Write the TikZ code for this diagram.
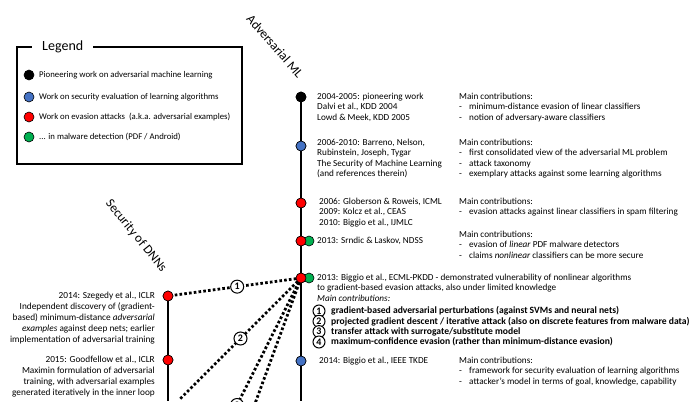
\documentclass[tikz,border=0pt]{standalone}
\usepackage{fontspec}
\setmainfont{Carlito}
\definecolor{myred}{RGB}{255,0,0}
\definecolor{myblue}{RGB}{68,114,196}
\definecolor{mygreen}{RGB}{0,176,80}
\begin{document}
\begin{tikzpicture}[x=1pt,y=-1pt,
  dot/.style={circle,draw=black,line width=0.6pt,minimum size=10pt,inner sep=0pt},
  txt/.style={font=\fontsize{9.2}{10.5}\selectfont,align=left,anchor=north west,inner sep=0pt},
  rtxt/.style={font=\fontsize{9.3}{10.9}\selectfont,align=right,anchor=north east,inner sep=0pt},
  legtxt/.style={font=\fontsize{8.75}{10}\selectfont,anchor=west,inner sep=0pt},
  title/.style={font=\fontsize{13}{15}\selectfont,inner sep=0pt},
  timeline/.style={line width=2.4pt},
  dotcon/.style={line width=2.8pt,dash pattern=on 2.6pt off 2.2pt},
  numc/.style={circle,solid,draw=black,fill=white,line width=1pt,minimum size=13pt,inner sep=0pt,font=\fontsize{10}{11}\selectfont\bfseries},
  numl/.style={circle,draw=black,fill=white,line width=1pt,minimum size=12pt,inner sep=0pt,font=\fontsize{10}{10}\selectfont\bfseries},
  btxt/.style={font=\fontsize{9.6}{11}\selectfont\bfseries,anchor=west,inner sep=0pt}
]
\useasboundingbox (0,0) rectangle (700,401);
\fill[white] (0,0) rectangle (700,401);

% legend
\draw[line width=1.1pt] (17,47) rectangle (242,164);
\node[fill=white,inner xsep=10pt,inner ysep=3pt,font=\fontsize{14}{16}\selectfont,anchor=west] (legtitle) at (32,47) {Legend};
\node[dot,fill=black] (lg1) at (29,75) {};
\node[dot,fill=myblue] (lg2) at (29,97) {};
\node[dot,fill=myred] (lg3) at (29,117) {};
\node[dot,fill=mygreen] (lg4) at (29,137) {};
\node[legtxt] (lt1) at (39,75) {Pioneering work on adversarial machine learning};
\node[legtxt] (lt2) at (39,97) {Work on security evaluation of learning algorithms};
\node[legtxt] (lt3) at (39,117) {Work on evasion attacks \ (a.k.a. adversarial examples)};
\node[legtxt] (lt4) at (39,137) {... in malware detection (PDF / Android)};

% titles
\node[title,rotate=-49] (advml) at (275,46) {Adversarial ML};
\node[title,rotate=-51] (secdnn) at (136,236) {Security of DNNs};

% timeline coordinates
\coordinate (mainend) at (301,401);
\coordinate (leftend) at (168,401);
\coordinate (c2end) at (180,399);
\coordinate (c3end) at (237,405);
\coordinate (c4end) at (249,420);

\node[dot,fill=black] (d1) at (301,97) {};
\node[dot,fill=myblue] (d2) at (301,146) {};
\node[dot,fill=myred] (d3) at (301,203) {};
\node[dot,fill=myred] (d4) at (301,241) {};
\node[dot,fill=myred] (d5) at (301,278) {};
\node[dot,fill=myblue] (d6) at (301,361) {};
\node[dot,fill=myred] (s1) at (168,296) {};
\node[dot,fill=myred] (s2) at (168,360) {};

% lines (drawn, then dots redrawn on top)
\draw[timeline] (d1.center) -- (mainend);
\draw[timeline] (s1.center) -- (leftend);
\draw[dotcon] (d5.center) -- (s1.center) node[numc,pos=0.48] (n1) {1};
\draw[dotcon] (d5.center) -- (c2end) node[numc,pos=0.5] (n2) {2};
\draw[dotcon] (d5.center) -- (c3end);
\draw[dotcon] (d5.center) -- (c4end);
\node[numc] (n3) at (c3end) {3};

% dots on top
\node[dot,fill=black] at (d1) {};
\node[dot,fill=myblue] at (d2) {};
\node[dot,fill=myred] at (d3) {};
\node[dot,fill=mygreen] (g4) at (309,241) {};
\node[dot,fill=myred] at (d4) {};
\node[dot,fill=mygreen] (g5) at (309,278) {};
\node[dot,fill=myred] at (d5) {};
\node[dot,fill=myblue] at (d6) {};
\node[dot,fill=myred] at (s1) {};
\node[dot,fill=myred] at (s2) {};

% right texts
\node[txt] (l1) at (317,91.7) {\strut 2004-2005: pioneering work\\Dalvi et al., KDD 2004\\Lowd \& Meek, KDD 2005};
\node[txt] (r1) at (459,91.7) {\strut Main contributions:\\\makebox[10pt][l]{-}minimum-distance evasion of linear classifiers\\\makebox[10pt][l]{-}notion of adversary-aware classifiers};
\node[txt] (l2) at (317,137.7) {\strut 2006-2010: Barreno, Nelson,\\Rubinstein, Joseph, Tygar\\The Security of Machine Learning\\(and references therein)};
\node[txt] (r2) at (459,137.7) {\strut Main contributions:\\\makebox[10pt][l]{-}first consolidated view of the adversarial ML problem\\\makebox[10pt][l]{-}attack taxonomy\\\makebox[10pt][l]{-}exemplary attacks against some learning algorithms};
\node[txt] (l3) at (319,196.7) {\strut 2006: Globerson \& Roweis, ICML\\2009: Kolcz et al., CEAS\\2010: Biggio et al., IJMLC};
\node[txt] (r3) at (459,196.7) {\strut Main contributions:\\\makebox[10pt][l]{-}evasion attacks against linear classifiers in spam filtering};
\node[txt] (l4) at (317,235.7) {\strut 2013: Srndic \& Laskov, NDSS};
\node[txt] (r4) at (459,229.7) {\strut Main contributions:\\\makebox[10pt][l]{-}evasion of \emph{linear} PDF malware detectors\\\makebox[10pt][l]{-}claims \emph{nonlinear} classifiers can be more secure};
\node[txt] (l5) at (317,272.7) {\strut 2013: Biggio et al., ECML-PKDD - demonstrated vulnerability of nonlinear algorithms\\to gradient-based evasion attacks, also under limited knowledge\\\emph{Main contributions:}};
\node[numl] (m1) at (319,311) {1};
\node[numl] (m2) at (319,321.3) {2};
\node[numl] (m3) at (319,331.6) {3};
\node[numl] (m4) at (319,342) {4};
\node[btxt] (mt1) at (331,311) {gradient-based adversarial perturbations (against SVMs and neural nets)};
\node[btxt] (mt2) at (331,321.3) {projected gradient descent / iterative attack (also on discrete features from malware data)};
\node[btxt] (mt3) at (331,331.6) {transfer attack with surrogate/substitute model};
\node[btxt] (mt4) at (331,342) {maximum-confidence evasion (rather than minimum-distance evasion)};
\node[txt] (l6) at (319,355.7) {\strut 2014: Biggio et al., IEEE TKDE};
\node[txt] (r6) at (459,355.7) {\strut Main contributions:\\\makebox[10pt][l]{-}framework for security evaluation of learning algorithms\\\makebox[10pt][l]{-}attacker's model in terms of goal, knowledge, capability};

% left texts
\node[rtxt] (sl1) at (155,290.7) {\strut 2014: Szegedy et al., ICLR\\Independent discovery of (gradient-\\based) minimum-distance \emph{adversarial}\\\emph{examples} against deep nets; earlier\\implementation of adversarial training};
\node[rtxt] (sl2) at (155,354.7) {\strut 2015: Goodfellow et al., ICLR\\Maximin formulation of adversarial\\training, with adversarial examples\\generated iteratively in the inner loop};
\end{tikzpicture}
\end{document}
